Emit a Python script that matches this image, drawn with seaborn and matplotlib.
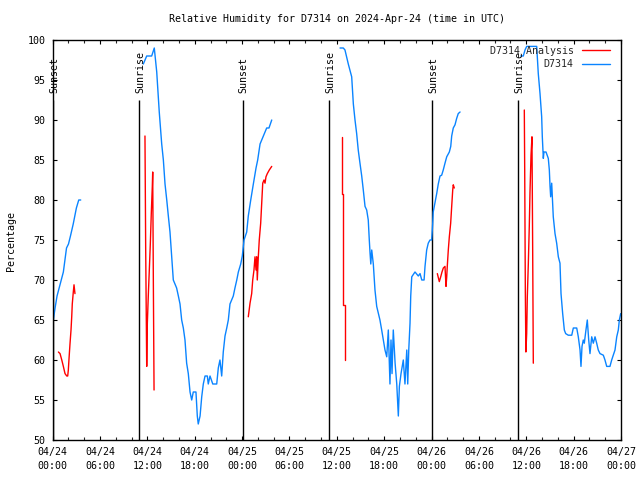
import matplotlib
matplotlib.use("Agg")
import matplotlib.pyplot as plt
import numpy as np
import pandas as pd
import seaborn as sns
from matplotlib.ticker import FixedLocator

TITLE = "Relative Humidity for D7314 on 2024-Apr-24 (time in UTC)"
YLABEL = "Percentage"
SERIES_OBS = "D7314"
SERIES_ANA = "D7314 Analysis"

# time axis: hours since 2024-04-24 00:00 UTC
x_ticks = [0, 6, 12, 18, 24, 30, 36, 42, 48, 54, 60, 66, 72]
x_tick_labels = ["04/24\n00:00", "04/24\n06:00", "04/24\n12:00", "04/24\n18:00",
                 "04/25\n00:00", "04/25\n06:00", "04/25\n12:00", "04/25\n18:00",
                 "04/26\n00:00", "04/26\n06:00", "04/26\n12:00", "04/26\n18:00",
                 "04/27\n00:00"]
y_ticks = [50, 55, 60, 65, 70, 75, 80, 85, 90, 95, 100]

sunset_h = [0.05, 24.05, 48.09]
sunrise_h = [10.97, 35.05, 58.99]

# ---- D7314 observations (blue) ----
obs1_t = [0.08, 0.3, 0.55, 0.95, 1.35, 1.75, 2.0, 2.25, 2.6, 3.0, 3.3, 3.55]
obs1_v = [65, 66.5, 68, 69.5, 71, 74, 74.5, 75.5, 77, 79, 80, 80]

obs2_t = [11.48, 11.91, 12.54, 12.87, 13.18, 13.50, 13.81, 14.02, 14.23, 14.45,
          14.65, 14.86, 15.07, 15.28, 15.70, 15.92, 16.13, 16.34, 16.55, 16.76,
          16.97, 17.18, 17.40, 17.61, 17.81, 18.15, 18.32, 18.44, 18.67, 18.88,
          19.08, 19.30, 19.59, 19.71, 19.93, 20.28, 20.78, 20.98, 21.19, 21.41,
          21.61, 21.83, 22.05, 22.25, 22.46, 22.88, 23.09, 23.32, 23.52, 23.82,
          24.02, 24.24, 24.58, 24.78, 25.09, 25.42, 25.76, 25.97, 26.27, 26.69,
          27.11, 27.40, 27.75]
obs2_v = [97, 98, 98, 99, 96, 91, 87, 85, 82, 80,
          78, 76, 73, 70, 69, 68, 67, 65, 64, 62.5,
          59.6, 58.3, 56, 55, 56, 56, 53, 52, 53, 55.4,
          57, 58, 58, 57, 58, 57, 57, 59, 60, 58,
          61, 63, 64, 65, 67, 68, 69, 70, 71, 72,
          73, 75, 76, 78, 80, 82, 84, 85, 87, 88,
          89, 89, 90]

obs3_t = [36.40, 36.82, 37.03, 37.45, 37.88, 38.09, 38.30, 38.51, 38.71, 38.93,
          39.15, 39.35, 39.57, 39.78, 39.98, 40.11, 40.21, 40.30, 40.42, 40.62,
          40.83, 41.05, 41.46, 41.68, 41.89, 42.10, 42.32, 42.52, 42.73, 42.86,
          42.99, 43.15, 43.38, 43.59, 43.79, 43.92, 44.13, 44.42, 44.63, 44.86,
          44.98, 45.11, 45.27, 45.36, 45.49, 45.90, 46.32, 46.54, 46.76, 47.05,
          47.17, 47.38, 47.58, 47.80, 48.01, 48.14, 48.21, 48.42, 48.65, 48.85,
          49.07, 49.28, 49.48, 49.70, 49.92, 50.25, 50.43, 50.55, 50.75, 50.97,
          51.18, 51.38, 51.61]
obs3_v = [99, 99, 98.75, 97, 95.4, 92, 90, 88.3, 86.25, 84.6,
          83, 81.25, 79.2, 78.75, 77.5, 75, 73.3, 72, 73.75, 72,
          68.75, 66.7, 65, 63.75, 62.5, 61.25, 60.4, 63.75, 57, 62.5,
          58.3, 63.75, 59.6, 57, 53, 56.7, 58.3, 60, 57, 61.25,
          57, 61.25, 64.6, 68, 70.4, 71, 70.5, 70.8, 70, 70,
          71.7, 73.75, 74.6, 75, 75, 77, 78.5, 79.6, 80.8, 82,
          83, 83.1, 83.75, 84.6, 85.4, 86, 86.7, 88, 89, 89.4,
          90.2, 90.8, 91]

obs4_t = [59.29, 59.62, 59.84, 60.05, 61.32, 61.52, 61.74, 61.95, 62.03, 62.16,
          62.24, 62.50, 62.79, 62.92, 63.01, 63.09, 63.22, 63.30, 63.42, 63.64,
          63.85, 64.06, 64.27, 64.40, 64.61, 64.82, 64.99, 65.32, 65.76, 65.96,
          66.39, 66.59, 66.81, 66.93, 67.06, 67.22, 67.35, 67.56, 67.73, 67.91,
          68.07, 68.29, 68.49, 68.71, 68.92, 69.12, 69.34, 69.76, 69.97, 70.19,
          70.60, 70.82, 71.02, 71.24, 71.46, 71.66, 71.79, 71.96]
obs4_v = [98, 98, 98.75, 99.2, 99.2, 95.8, 93.3, 90.4, 87.9, 85.2,
          86, 86, 85.2, 83.75, 81.7, 80.4, 82.1, 80.4, 77.9, 75.8,
          74.6, 72.9, 72.1, 68.3, 65.8, 63.75, 63.3, 63.1, 63.1, 64,
          64, 62.9, 61.25, 59.2, 61.7, 62.5, 62.1, 63.75, 65, 62.5,
          60.8, 62.9, 62.1, 62.9, 62.1, 61.25, 60.8, 60.6, 60, 59.2,
          59.2, 60, 60.6, 61.25, 62.9, 63.75, 65, 65.8]

# ---- D7314 Analysis (red) ----
ana1_t = [0.72, 0.93, 1.15, 1.35, 1.56, 1.78, 1.90, 1.98, 2.07, 2.19, 2.32, 2.41,
          2.48, 2.61, 2.70, 2.82]
ana1_v = [61, 60.8, 60, 59.2, 58.3, 58, 58, 58.75, 60.2, 62, 63.75, 65.4,
          67, 68.5, 69.4, 68.3]

ana2_t = [11.69, 11.78, 11.91, 11.99, 12.11, 12.24, 12.37, 12.49, 12.62, 12.67,
          12.75, 12.84]
ana2_v = [88, 74, 59.2, 64.6, 68, 71.25, 74.6, 78.3, 81.7, 83.5, 70, 56.25]

ana3_t = [24.78, 25.00, 25.21, 25.34, 25.50, 25.63, 25.76, 25.85, 25.92, 26.05,
          26.17, 26.35, 26.48, 26.61, 26.77, 26.90, 27.02, 27.19, 27.44, 27.75]
ana3_v = [65.4, 67.1, 68.3, 70, 71.25, 72.9, 71.25, 72.9, 70, 72.9,
          75, 77.1, 79.6, 82.1, 82.5, 82.1, 82.9, 83.3, 83.75, 84.2]

ana4_t = [36.61, 36.61, 36.82, 36.82, 37.03, 37.03]
ana4_v = [87.9, 80.8, 80.8, 66.9, 66.9, 60]

ana5_t = [48.73, 48.98, 49.16, 49.32, 49.49, 49.70, 49.83, 49.92, 49.99, 50.12,
          50.25, 50.42, 50.55, 50.68, 50.75, 50.88]
ana5_v = [70.8, 69.8, 70.4, 71, 71.5, 71.7, 69.2, 70.4, 71.7, 73.75,
          75.4, 77.1, 79.2, 81.25, 81.9, 81.5]

ana6_t = [59.75, 59.80, 59.88, 59.95, 60.05, 60.13, 60.26, 60.38, 60.47, 60.60,
          60.72, 60.81, 60.89]
ana6_v = [91.25, 83.75, 68.5, 61, 63.3, 67.9, 72.1, 76.7, 81, 85.6,
          87.9, 73.75, 59.6]

# ---- build tidy table ----
frames = []
for i, (t, v) in enumerate([(ana1_t, ana1_v), (ana2_t, ana2_v), (ana3_t, ana3_v),
                            (ana4_t, ana4_v), (ana5_t, ana5_v), (ana6_t, ana6_v)]):
    frames.append(pd.DataFrame({"hours": t, "rh": v, "series": SERIES_ANA,
                                "seg": f"a{i}"}))
for i, (t, v) in enumerate([(obs1_t, obs1_v), (obs2_t, obs2_v),
                            (obs3_t, obs3_v), (obs4_t, obs4_v)]):
    frames.append(pd.DataFrame({"hours": t, "rh": v, "series": SERIES_OBS,
                                "seg": f"o{i}"}))
df = pd.concat(frames, ignore_index=True)

sns.set_theme(style="white")
plt.rcParams["font.family"] = ["DejaVu Sans Mono", "DejaVu Sans"]
FS = 7.2

fig = plt.figure(figsize=(6.4, 4.8), dpi=100)
ax = fig.add_axes([52.7 / 640, 1 - 440 / 480, (621 - 52.7) / 640, 400 / 480])

palette = {SERIES_ANA: "#ff0000", SERIES_OBS: "#0a84ff"}
sns.lineplot(data=df, x="hours", y="rh", hue="series", units="seg",
             estimator=None, sort=False, palette=palette,
             hue_order=[SERIES_ANA, SERIES_OBS], linewidth=1.0, ax=ax,
             legend=True)

# sunrise / sunset markers
for t in sunset_h:
    ax.vlines(t, 50, 92.5, color="black", linewidth=1.0, zorder=1)
    ax.text(t + 0.15, 93.4, "Sunset", rotation=90, ha="center", va="bottom",
            fontsize=FS, color="black")
for t in sunrise_h:
    ax.vlines(t, 50, 92.5, color="black", linewidth=1.0, zorder=1)
    ax.text(t + 0.15, 93.4, "Sunrise", rotation=90, ha="center", va="bottom",
            fontsize=FS, color="black")

ax.set_xlim(0, 72)
ax.set_ylim(50, 100)
ax.set_xticks(x_ticks)
ax.set_xticklabels(x_tick_labels, fontsize=FS, linespacing=1.45)
ax.xaxis.set_minor_locator(FixedLocator(np.arange(0, 73, 2)))
ax.set_yticks(y_ticks)
ax.set_yticklabels([str(v) for v in y_ticks], fontsize=FS)
ax.set_xlabel("")
ax.set_ylabel("")

ax.tick_params(axis="x", which="major", direction="in", length=3.2, width=0.8,
               top=True, bottom=True, pad=5, colors="black")
ax.tick_params(axis="x", which="minor", direction="in", length=2.2, width=0.8,
               top=True, bottom=True)
ax.tick_params(axis="y", which="major", direction="in", length=2.9, width=0.8,
               left=True, right=True, pad=5, colors="black")
for s in ax.spines.values():
    s.set_color("black")
    s.set_linewidth(1.0)

fig.text(336.9 / 640, 1 - 19 / 480, TITLE, ha="center", va="center",
         fontsize=FS, color="black")
fig.text(11 / 640, 1 - 241 / 480, YLABEL, rotation=90, ha="center",
         va="center", fontsize=FS, color="black")

handles, labels = ax.get_legend_handles_labels()
leg = ax.legend(handles, labels, loc="upper right",
                bbox_to_anchor=(609.5 / 640, 1 - 45.5 / 480),
                bbox_transform=fig.transFigure, frameon=False,
                markerfirst=False, fontsize=FS, handlelength=2.8,
                handletextpad=0.8, labelspacing=0.35, borderpad=0,
                borderaxespad=0)

fig.savefig("out.png", dpi=100, facecolor="white")
